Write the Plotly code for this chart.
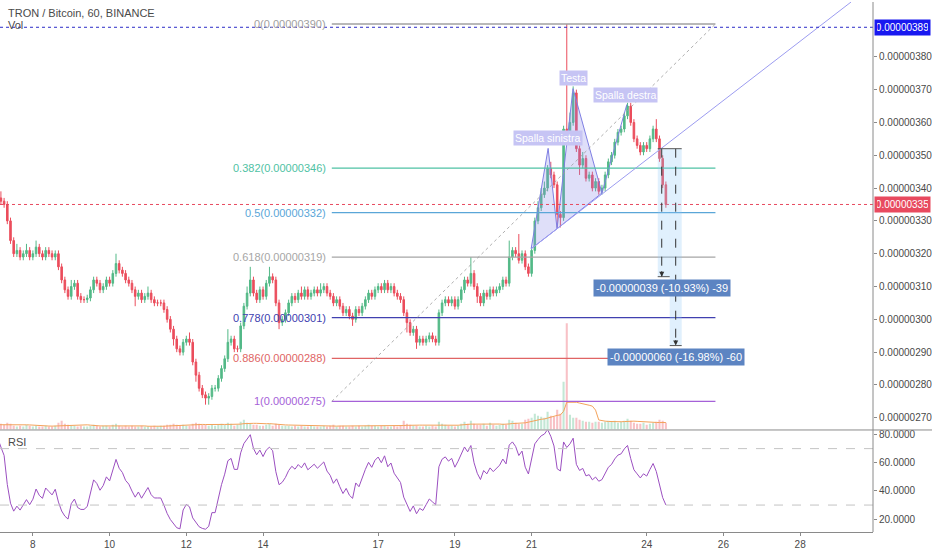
import numpy as np
import pandas as pd
import plotly.graph_objects as go

# TRX/BTC, 2h candles, prices in satoshi (1e-8 BTC)
pre_closes = [328, 331, 329, 333, 332, 335, 334, 337]
closes = pre_closes + [
    336, 335, 330, 324, 320, 321, 319, 320, 321, 319,
    320, 322, 320, 319, 321, 320, 319, 320, 316, 312,
    309, 307, 310, 311, 307, 306, 306, 306.5, 309, 312,
    311, 309, 310, 312, 311, 314, 317, 315, 314, 312,
    311, 309, 307, 308, 306, 307, 308, 306, 305, 305,
    305, 303, 300, 297, 294, 291, 290, 293, 294, 293,
    287, 283, 279, 277, 276, 276.5, 279, 279, 282, 285,
    288, 293, 294, 291, 291, 298, 304, 308, 312, 308,
    306, 309, 307, 311, 313, 312, 305, 299, 300, 302,
    305, 307, 306, 308, 307, 309, 307, 308, 309, 308,
    309, 310, 308, 307, 305, 306, 304, 302, 303, 301,
    300, 303, 302, 304, 306, 308, 307, 309, 310, 309,
    311, 309, 310, 308, 307, 306, 302, 299, 296, 297,
    293, 294, 293, 294, 295, 294, 293, 302, 305, 306,
    305, 306, 304, 306, 309, 312, 311, 314, 310, 307,
    305, 308, 307, 309, 308, 309, 310, 312, 311, 319,
    321, 320, 318, 320, 316, 314, 321, 330, 334, 338,
    340, 346, 344, 341, 332, 331, 358, 355, 360, 369,
    352, 347, 349, 343, 344, 340, 342, 339, 340, 344,
    348, 350, 354, 357, 358, 362, 365, 360, 355, 353,
    351, 353, 352, 355, 358, 355, 349, 341, 335,
]
first_open = 326
wick_hi = [1, 1, 1, 1, 1, 1, 1, 2] + [
    2, 1, 1, 1, 1, 2, 1, 1, 2, 1,
    1, 2, 1, 1, 1, 1, 1, 1, 1, 1,
    1, 1, 2, 1, 1, 1, 1, 1, 1, 1,
    1, 1, 1, 1, 1, 1, 3, 1, 1, 1,
    1, 1, 1, 1, 1, 1, 2, 1, 1, 1,
    1, 1, 1, 1, 1, 1, 1, 1, 1, 2,
    1, 1, 1, 1, 1, 1, 1, 1, 1, 1,
    1, 4, 1, 1, 1, 1, 1, 2, 4, 1,
    1, 1, 1, 1, 3, 1, 1, 1, 1, 1,
    1, 1, 1, 1, 2, 1, 1, 1, 1, 1,
    2, 1, 1, 1, 1, 1, 1, 1, 1, 1,
    1, 1, 1, 1, 1, 1, 1, 1, 1, 1,
    1, 1, 1, 1, 1, 1, 1, 1, 1, 1,
    1, 1, 1, 1, 1, 1, 1, 1, 1, 1,
    1, 1, 1, 1, 1, 1, 1, 5, 1, 1,
    1, 1, 1, 1, 1, 1, 1, 1, 1, 5,
    1, 1, 6, 1, 1, 1, 1, 1, 2, 2,
    2, 1, 2, 1, 1, 1, 1, 32, 3, 2,
    1, 1, 2, 1, 1, 1, 1, 1, 1, 1,
    1, 1, 1, 1, 1, 1, 1, 1, 1, 1,
    1, 1, 1, 1, 1, 3, 1, 1, 1,
]
wick_lo = [1, 1, 1, 1, 1, 1, 1, 1] + [
    1, 1, 1, 1, 1, 1, 1, 1, 1, 1,
    1, 1, 1, 1, 1, 1, 1, 1, 1, 1,
    1, 1, 1, 1, 1, 1, 1, 1, 1, 1,
    1, 1, 1, 1, 1, 1, 1, 1, 1, 1,
    1, 1, 3, 1, 1, 1, 1, 1, 1, 1,
    1, 1, 1, 1, 2, 1, 1, 1, 1, 1,
    1, 2, 1, 1, 2, 2, 1, 1, 1, 1,
    1, 1, 1, 1, 1, 1, 1, 1, 1, 1,
    1, 1, 1, 1, 1, 1, 1, 2, 1, 1,
    1, 1, 1, 1, 1, 1, 1, 1, 1, 1,
    1, 1, 1, 1, 1, 1, 1, 1, 1, 1,
    2, 1, 1, 1, 1, 1, 1, 1, 1, 1,
    1, 1, 1, 1, 1, 1, 1, 3, 1, 1,
    2, 1, 1, 1, 1, 1, 1, 1, 1, 1,
    1, 1, 1, 1, 1, 1, 1, 1, 1, 2,
    1, 1, 1, 1, 1, 1, 1, 1, 1, 1,
    1, 1, 1, 1, 1, 1, 1, 1, 1, 1,
    1, 1, 1, 1, 4, 3, 1, 1, 1, 1,
    1, 3, 1, 1, 1, 1, 1, 1, 1, 1,
    1, 1, 1, 1, 1, 1, 1, 1, 1, 1,
    1, 1, 1, 1, 1, 1, 1, 1, 1,
]
volumes = [50, 40, 60, 50, 40, 50, 60, 50] + [
    60, 50, 70, 60, 40, 30, 40, 30, 50, 40,
    30, 40, 30, 30, 40, 30, 30, 40, 70, 90,
    60, 50, 40, 40, 30, 40, 30, 30, 40, 50,
    40, 30, 40, 40, 30, 50, 60, 40, 30, 40,
    30, 40, 30, 30, 40, 30, 30, 30, 40, 30,
    40, 40, 50, 50, 60, 50, 40, 50, 40, 40,
    60, 70, 60, 50, 50, 40, 50, 40, 50, 60,
    50, 70, 60, 40, 50, 80, 100, 70, 60, 50,
    50, 40, 40, 50, 60, 40, 60, 50, 40, 40,
    40, 30, 40, 30, 40, 30, 30, 40, 30, 30,
    30, 40, 30, 40, 50, 30, 40, 40, 30, 30,
    40, 30, 40, 30, 40, 50, 40, 40, 30, 40,
    40, 30, 30, 40, 30, 40, 90, 60, 50, 40,
    40, 30, 30, 40, 30, 40, 30, 80, 60, 50,
    40, 40, 30, 40, 60, 80, 60, 90, 60, 50,
    50, 60, 40, 70, 50, 40, 50, 60, 50, 100,
    90, 70, 60, 60, 100, 110, 120, 160, 140, 130,
    120, 180, 140, 130, 200, 160, 480, 1070, 150, 120,
    120, 100, 90, 80, 80, 70, 80, 80, 70, 80,
    90, 80, 90, 70, 80, 90, 110, 90, 70, 60,
    60, 70, 50, 60, 70, 80, 100, 90, 70,
]

fib_ratios = [0, 0.382, 0.5, 0.618, 0.778, 0.886, 1]
fib_label_prices = [390, 346, 332, 319, 301, 288, 275]
fib_colors = ["#a0a0a0", "#4fc2a4", "#5aa6d8", "#a6a6a6", "#4040b0", "#e06464", "#a561d8"]
fib_top, fib_bottom = 390, 275

price_ticks = [270, 280, 290, 300, 310, 320, 330, 340, 350, 360, 370, 380]
rsi_ticks = [20, 40, 60, 80]
day_ticks = [8, 10, 12, 14, 17, 19, 21, 24, 26, 28]

last_price = 335
alert_price = 389
move_top = 352
move_sizes = [39, 60]
move_pcts = [10.93, 16.98]

UP, DOWN = "#53b987", "#eb4d5c"
FONT = "Liberation Sans"

times = pd.date_range("2018-07-06 12:00", periods=len(closes), freq="2h")
c = np.array(closes, dtype=float)
o = np.concatenate([[first_open], c[:-1]])
h = np.maximum(o, c) + np.array(wick_hi)
lo = np.minimum(o, c) - np.array(wick_lo)
vol = pd.Series(volumes, dtype=float)
vol_ma = vol.rolling(10, min_periods=1).mean()

# Wilder RSI on the 2h closes
d = pd.Series(c).diff().fillna(0)
ag = d.clip(lower=0).ewm(alpha=1 / 10, adjust=False).mean()
al = (-d.clip(upper=0)).ewm(alpha=1 / 10, adjust=False).mean()
rsi = 100 - 100 / (1 + ag / al.replace(0, 1e-9))

fig = go.Figure()

vcols = ["rgba(83,185,135,0.35)" if cc >= oo else "rgba(235,77,92,0.35)" for oo, cc in zip(o, c)]
fig.add_trace(go.Bar(x=times, y=vol, marker=dict(color=vcols, line=dict(width=0)),
                     xaxis="x", yaxis="y3", showlegend=False))
fig.add_trace(go.Scatter(x=times, y=vol_ma, mode="lines", line=dict(color="#f3a25a", width=1),
                         xaxis="x", yaxis="y3", showlegend=False))
fig.add_trace(go.Candlestick(
    x=times, open=o, high=h, low=lo, close=c, xaxis="x", yaxis="y",
    increasing=dict(line=dict(color=UP, width=1), fillcolor=UP),
    decreasing=dict(line=dict(color=DOWN, width=1), fillcolor=DOWN),
    whiskerwidth=0, showlegend=False))

# head & shoulders pattern
pts_t = pd.to_datetime(["2018-07-20 23:42", "2018-07-21 10:20", "2018-07-21 15:55",
                        "2018-07-22 01:55", "2018-07-22 20:00", "2018-07-23 11:35"])
pts_p = [321.5, 352.1, 327.6, 370.3, 338.5, 365.5]
for a, b, cc in [(0, 1, 2), (2, 3, 4)]:
    fig.add_trace(go.Scatter(x=[pts_t[a], pts_t[b], pts_t[cc], pts_t[a]],
                             y=[pts_p[a], pts_p[b], pts_p[cc], pts_p[a]],
                             mode="lines", fill="toself", fillcolor="rgba(140,140,235,0.28)",
                             line=dict(color="#7f7fe3", width=1), xaxis="x", yaxis="y",
                             showlegend=False, hoverinfo="skip"))
fig.add_trace(go.Scatter(x=[pts_t[4], pts_t[5]], y=[pts_p[4], pts_p[5]], mode="lines",
                         line=dict(color="#7f7fe3", width=1), xaxis="x", yaxis="y",
                         showlegend=False, hoverinfo="skip"))

fig.add_trace(go.Scatter(x=times, y=rsi, mode="lines", line=dict(color="#9b4fc0", width=1),
                         xaxis="x2", yaxis="y2", showlegend=False))

fib_x0, fib_x1 = "2018-07-15 19:00", "2018-07-25 19:00"
shapes = []
annotations = []
for r, lp, col in zip(fib_ratios, fib_label_prices, fib_colors):
    yv = fib_top - r * (fib_top - fib_bottom)
    shapes.append(dict(type="line", xref="x", yref="y", x0=fib_x0, x1=fib_x1, y0=yv, y1=yv,
                       line=dict(color=col, width=1.3)))
    annotations.append(dict(xref="x", yref="y", x=fib_x0, y=yv, xanchor="right", yanchor="middle",
                            xshift=-4, showarrow=False, text=f"{r:g}({lp * 1e-8:.8f})",
                            font=dict(family=FONT, size=11, color=col)))
shapes.append(dict(type="line", xref="x", yref="y", x0=fib_x0, x1=fib_x1, y0=fib_bottom, y1=fib_top,
                   line=dict(color="#9a9a9a", width=0.8, dash="dot")))
# neckline
shapes.append(dict(type="line", xref="x", yref="y", x0="2018-07-20 23:42", y0=321.5,
                   x1="2018-07-29 07:50", y1=396.7, line=dict(color="#9c9cf0", width=1)))
# horizontal price lines
shapes.append(dict(type="line", xref="paper", yref="y", x0=0, x1=1, y0=alert_price, y1=alert_price,
                   line=dict(color="#2b2bc8", width=1, dash="dot")))
shapes.append(dict(type="line", xref="paper", yref="y", x0=0, x1=1, y0=last_price, y1=last_price,
                   line=dict(color="#e84a5f", width=1, dash="dot")))
# price-range measurements
rects = [("2018-07-24 06:54", "2018-07-24 14:24", "2018-07-24 09:24"),
         ("2018-07-24 14:24", "2018-07-24 21:54", "2018-07-24 18:08")]
label_y = [309.7, 288.5]
for (x0, x1, xm), sz, pc, ly in zip(rects, move_sizes, move_pcts, label_y):
    bot = move_top - sz
    shapes.append(dict(type="rect", xref="x", yref="y", x0=x0, x1=x1, y0=bot, y1=move_top,
                       fillcolor="rgba(144,202,249,0.28)", line=dict(width=0)))
    shapes.append(dict(type="line", xref="x", yref="y", x0=xm, x1=xm, y0=move_top, y1=bot,
                       line=dict(color="#333", width=1, dash="dash")))
    shapes.append(dict(type="line", xref="x", yref="y", x0=x0, x1=x1, y0=bot, y1=bot,
                       line=dict(color="#555", width=1)))
    annotations.append(dict(xref="x", yref="y", x=xm, y=bot, ax=0, ay=-7, text="", showarrow=True,
                            arrowhead=2, arrowsize=1, arrowwidth=1, arrowcolor="#333"))
    annotations.append(dict(xref="x", yref="y", x=xm, y=ly, showarrow=False,
                            text=f"-{sz * 1e-8:.8f} (-{pc:.2f}%) -{sz}",
                            font=dict(family=FONT, size=11, color="white"),
                            bgcolor="#5c84c2", borderpad=2))
shapes.append(dict(type="line", xref="x", yref="y", x0=rects[0][0], x1=rects[1][1],
                   y0=move_top, y1=move_top, line=dict(color="#555", width=1)))
# RSI bands
for lv in (70, 30):
    shapes.append(dict(type="line", xref="paper", yref="y2", x0=0, x1=1, y0=lv, y1=lv,
                       line=dict(color="#c4c4c4", width=1, dash="dash")))
# pane separator and axis frame
shapes.append(dict(type="line", xref="paper", yref="paper", x0=0, x1=1.07, y0=0.1925, y1=0.1925,
                   line=dict(color="#8a8a8a", width=1)))
shapes.append(dict(type="line", xref="paper", yref="paper", x0=1, x1=1, y0=0, y1=1,
                   line=dict(color="#8a8a8a", width=1)))

# pattern labels
for txt, tx, ty in [("Spalla sinistra", "2018-07-21 10:20", 355.3),
                    ("Testa", "2018-07-22 01:55", 373.6),
                    ("Spalla destra", "2018-07-23 10:55", 368.5)]:
    annotations.append(dict(xref="x", yref="y", x=tx, y=ty, showarrow=False, text=txt,
                            font=dict(family=FONT, size=10.5, color="white"),
                            bgcolor="#c6c4f4", borderpad=1))
# axis price boxes
for pv, bg in [(alert_price, "#1818f0"), (last_price, "#e84a5f")]:
    annotations.append(dict(xref="paper", yref="y", x=1, y=pv, xanchor="left", xshift=1,
                            showarrow=False, text=f"{pv * 1e-8:.8f}", width=51,
                            font=dict(family=FONT, size=10, color="white"), bgcolor=bg, borderpad=2))
# pane titles
for txt, yy in [("TRON / Bitcoin, 60, BINANCE", 11), ("Vol", 23), ("RSI", 442)]:
    annotations.append(dict(xref="paper", yref="paper", x=0, y=1 - yy / 533, xanchor="left",
                            yanchor="middle", xshift=6, showarrow=False, text=txt,
                            font=dict(family=FONT, size=11, color="#4a4a4a")))

x_range = ["2018-07-07 03:26", "2018-07-29 21:34"]
day_vals = [pd.Timestamp(2018, 7, dd) for dd in day_ticks]

fig.update_layout(
    width=932, height=550,
    margin=dict(l=0, r=56, t=0, b=17),
    paper_bgcolor="white", plot_bgcolor="white",
    font=dict(family=FONT, size=10, color="#4a4a4a"),
    showlegend=False, bargap=0.35,
    shapes=shapes, annotations=annotations,
    xaxis=dict(domain=[0, 1], range=x_range, anchor="y", showticklabels=False, showgrid=False,
               zeroline=False, rangeslider=dict(visible=False), type="date"),
    xaxis2=dict(domain=[0, 1], range=x_range, anchor="y2", matches="x", showgrid=False,
                tickvals=day_vals, ticktext=[str(dd) for dd in day_ticks], ticks="outside",
                ticklen=3, tickcolor="#8a8a8a", showline=True, linecolor="#8a8a8a",
                tickfont=dict(family=FONT, size=10, color="#4a4a4a")),
    yaxis=dict(domain=[0.1932, 1], range=[266.4, 396.7], side="right", showgrid=False,
               zeroline=False, tickvals=price_ticks,
               ticktext=[f"{v * 1e-8:.8f}" for v in price_ticks], ticks="outside", ticklen=3,
               tickcolor="#8a8a8a", tickfont=dict(family=FONT, size=10, color="#4a4a4a")),
    yaxis3=dict(overlaying="y", range=[0, 4300], visible=False, showgrid=False),
    yaxis2=dict(domain=[0, 0.1914], range=[10.9, 82.8], side="right", showgrid=False,
                zeroline=False, tickvals=rsi_ticks, ticktext=[f"{v:.4f}" for v in rsi_ticks],
                ticks="outside", ticklen=3, tickcolor="#8a8a8a",
                tickfont=dict(family=FONT, size=10, color="#4a4a4a")),
)

fig.write_html("out.html", config={"displayModeBar": False},
               post_script="document.body.style.margin='0';")
